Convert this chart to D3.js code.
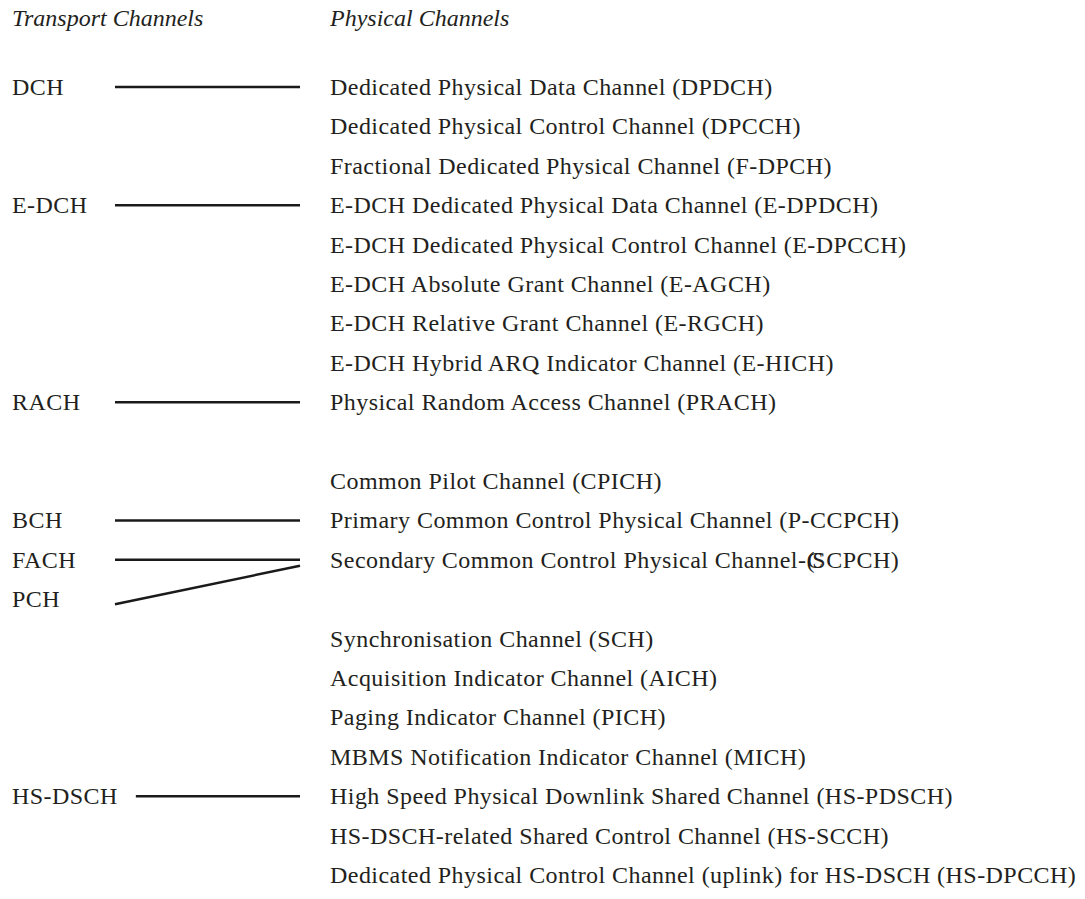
<!DOCTYPE html>
<html>
<head>
<meta charset="utf-8">
<script src="https://cdn.jsdelivr.net/npm/d3@7"></script>
<style>
  html, body { margin: 0; padding: 0; background: #ffffff; }
  svg { display: block; }
  text { font-family: "Liberation Serif", "Times New Roman", serif; fill: #231f20; }
</style>
</head>
<body>
<svg id="chart" width="1085" height="899"></svg>
<script>
// ---- data ----
const headers = ["Transport Channels", "Physical Channels"];

const transportNames = ["DCH", "E-DCH", "RACH", "BCH", "FACH", "PCH", "HS-DSCH"];
const transportRows  = [0, 3, 8, 11, 12, 13, 18];

const physicalNames = [
  "Dedicated Physical Data Channel (DPDCH)",
  "Dedicated Physical Control Channel (DPCCH)",
  "Fractional Dedicated Physical Channel (F-DPCH)",
  "E-DCH Dedicated Physical Data Channel (E-DPDCH)",
  "E-DCH Dedicated Physical Control Channel (E-DPCCH)",
  "E-DCH Absolute Grant Channel (E-AGCH)",
  "E-DCH Relative Grant Channel (E-RGCH)",
  "E-DCH Hybrid ARQ Indicator Channel (E-HICH)",
  "Physical Random Access Channel (PRACH)",
  "",
  "Common Pilot Channel (CPICH)",
  "Primary Common Control Physical Channel (P-CCPCH)",
  "Secondary Common Control Physical Channel-(CSCPCH)",
  "",
  "Synchronisation Channel (SCH)",
  "Acquisition Indicator Channel (AICH)",
  "Paging Indicator Channel (PICH)",
  "MBMS Notification Indicator Channel (MICH)",
  "High Speed Physical Downlink Shared Channel (HS-PDSCH)",
  "HS-DSCH-related Shared Control Channel (HS-SCCH)",
  "Dedicated Physical Control Channel (uplink) for HS-DSCH (HS-DPCCH)"
];
// the printed S-CCPCH label has overlapping glyphs: shifts for "-", "(", "C", "S"
const garbledRow = 12;
const garbledShift = [0, 0, -8, -11];

// links: [transport row, physical row]
const linkFrom = [0, 3, 8, 11, 12, 13, 18];
const linkTo   = [0, 3, 8, 11, 12, 12, 18];

// ---- layout ----
const svg = d3.select("#chart");
const rowIdx = d3.range(physicalNames.length);
const y = d3.scaleLinear().domain([0, physicalNames.length - 1]).range([87, 875]);
const x = d3.scaleOrdinal().domain(["transport", "linkStart", "linkEnd", "physical"])
  .range([12, 115, 300, 330]);

const fontSize = 24;
const spacing = 0.45;

// headers
svg.selectAll("text.header")
  .data(headers)
  .join("text")
  .attr("class", "header")
  .attr("x", (d, i) => i === 0 ? x("transport") : x("physical"))
  .attr("y", 26)
  .attr("font-size", fontSize)
  .attr("font-style", "italic")
  .text(d => d);

// transport labels
const tLabels = svg.selectAll("text.transport")
  .data(transportNames)
  .join("text")
  .attr("class", "transport")
  .attr("x", x("transport"))
  .attr("y", (d, i) => y(transportRows[i]))
  .attr("dy", "0.33em")
  .attr("font-size", fontSize)
  .attr("letter-spacing", spacing)
  .text(d => d);

const labelEnd = {};
tLabels.each(function(d, i) {
  labelEnd[transportRows[i]] = x("transport") + this.getComputedTextLength();
});

// physical labels
svg.selectAll("text.physical")
  .data(rowIdx.filter(i => physicalNames[i] !== ""))
  .join("text")
  .attr("class", "physical")
  .attr("x", x("physical"))
  .attr("y", i => y(i))
  .attr("dy", "0.33em")
  .attr("font-size", fontSize)
  .attr("letter-spacing", spacing)
  .each(function(i) {
    const sel = d3.select(this);
    const v = physicalNames[i];
    if (i === garbledRow) {
      const k0 = v.indexOf("-(");
      const dx = Array.from(v, (c, k) => (k >= k0 && k < k0 + garbledShift.length) ? garbledShift[k - k0] : 0);
      sel.attr("dx", dx.join(" "));
    }
    sel.text(v);
  });

// links
svg.selectAll("line.link")
  .data(d3.range(linkFrom.length))
  .join("line")
  .attr("class", "link")
  .attr("x1", i => Math.max(x("linkStart"), labelEnd[linkFrom[i]] + 18))
  .attr("x2", x("linkEnd"))
  .attr("y1", i => y(linkFrom[i]) + (linkFrom[i] !== linkTo[i] ? 5 : 0))
  .attr("y2", i => y(linkTo[i]) + (linkFrom[i] !== linkTo[i] ? 6 : 0))
  .attr("stroke", "#1a1a1a")
  .attr("stroke-width", 2.5);
</script>
</body>
</html>
